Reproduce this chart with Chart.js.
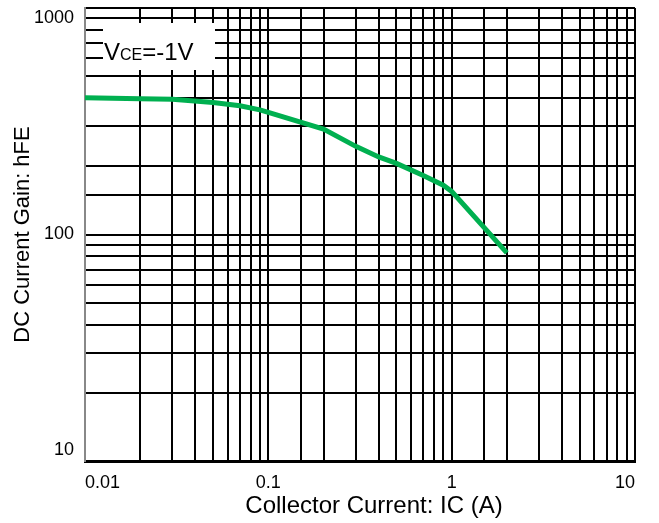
<!DOCTYPE html>
<html>
<head>
<meta charset="utf-8">
<script src="https://cdn.jsdelivr.net/npm/chart.js@4"></script>
<style>
  html, body { margin: 0; padding: 0; background: #fff; }
  #wrap { width: 659px; height: 523px; }
</style>
</head>
<body>
<div id="wrap"><canvas id="myChart"></canvas></div>
<script>
// collector current (A) and DC current gain
const currentA = [0.01, 0.02, 0.03, 0.05, 0.07, 0.09, 0.1, 0.2, 0.3, 0.4, 0.5, 0.7, 0.9, 1.0, 2.0];
const gainHFE  = [402, 397, 395, 383, 370, 355, 346, 292, 245, 220, 206, 182, 165, 155, 83];

const xRange = [0.01, 10];
const yRange = [10, 1000];
const yTickLabels = [10, 100, 1000];
const xTitle = 'Collector Current: IC (A)';
const yTitle = 'DC Current Gain: hFE';
const note = { main: 'V', sub: 'CE', rest: '=-1V' };

const ctx = document.getElementById('myChart');
const font = 'Liberation Sans, Arial, sans-serif';

function isPow10(v) {
  let l = Math.log10(v);
  return Math.abs(l - Math.round(l)) < 1e-6;
}
function decadeLabel(v) {
  return isPow10(v) ? String(Number(v.toPrecision(3))) : '';
}

// y labels are kept inside the plot height like in the datasheet figure
const yLabelPlugin = {
  id: 'yLabels',
  afterDraw(chart) {
    const c = chart.ctx;
    const a = chart.chartArea;
    const s = chart.scales.y;
    c.save();
    c.fillStyle = '#000';
    c.font = '18px ' + font;
    c.textAlign = 'right';
    c.textBaseline = 'middle';
    for (let v of yTickLabels) {
      let py = s.getPixelForValue(v);
      py = Math.min(Math.max(py, a.top + 10), a.bottom - 11);
      c.fillText(String(v), a.left - 11, py);
    }
    // x title sits a bit right of the plot centre
    c.font = '24px ' + font;
    c.textAlign = 'center';
    c.fillText(xTitle, (a.left + a.right) / 2 + 14, a.bottom + 45);
    c.restore();
  }
};

const notePlugin = {
  id: 'note',
  afterDraw(chart) {
    const c = chart.ctx;
    const a = chart.chartArea;
    let x = a.left + 18, y = a.top + 15;
    c.save();
    c.fillStyle = '#fff';
    c.fillRect(x, y, 112, 47);
    c.fillStyle = '#000';
    c.textBaseline = 'alphabetic';
    c.font = '24px ' + font;
    let bx = x + 1, by = y + 37;
    c.fillText(note.main, bx, by);
    bx += c.measureText(note.main).width;
    c.font = '16px ' + font;
    c.fillText(note.sub, bx, by);
    bx += c.measureText(note.sub).width;
    c.font = '24px ' + font;
    c.fillText(note.rest, bx, by);
    c.restore();
  }
};

new Chart(ctx, {
  type: 'line',
  data: {
    datasets: [{
      data: currentA.map((x, i) => ({x: x, y: gainHFE[i]})),
      borderColor: '#00b050',
      borderWidth: 5,
      pointRadius: 0,
      tension: 0,
      fill: false,
    }]
  },
  options: {
    responsive: true,
    maintainAspectRatio: false,
    animation: false,
    layout: { padding: { top: 8, right: 24, left: 0, bottom: 0 } },
    plugins: {
      legend: { display: false },
      tooltip: { enabled: false },
    },
    scales: {
      x: {
        type: 'logarithmic',
        min: xRange[0],
        max: xRange[1],
        afterFit: s => { s.height = 62; s.paddingLeft = 0; s.paddingRight = 0; },
        ticks: {
          autoSkip: false,
          maxRotation: 0,
          align: 'inner',
          padding: 11,
          color: '#000',
          font: { family: font, size: 18 },
          callback: v => decadeLabel(v),
        },
        grid: { color: '#000', lineWidth: 2, drawTicks: false },
        border: { color: '#000', width: 3 },
      },
      y: {
        type: 'logarithmic',
        min: yRange[0],
        max: yRange[1],
        afterFit: s => { s.width = 85; s.paddingTop = 0; s.paddingBottom = 0; },
        ticks: {
          display: false,
          autoSkip: false,
        },
        grid: { color: '#000', lineWidth: 2, drawTicks: false },
        border: { color: '#888', width: 2 },
        title: {
          display: true,
          text: yTitle,
          color: '#000',
          font: { family: font, size: 22 },
          padding: { top: 10, bottom: 0 },
        },
      },
    },
  },
  plugins: [yLabelPlugin, notePlugin],
});
</script>
</body>
</html>
